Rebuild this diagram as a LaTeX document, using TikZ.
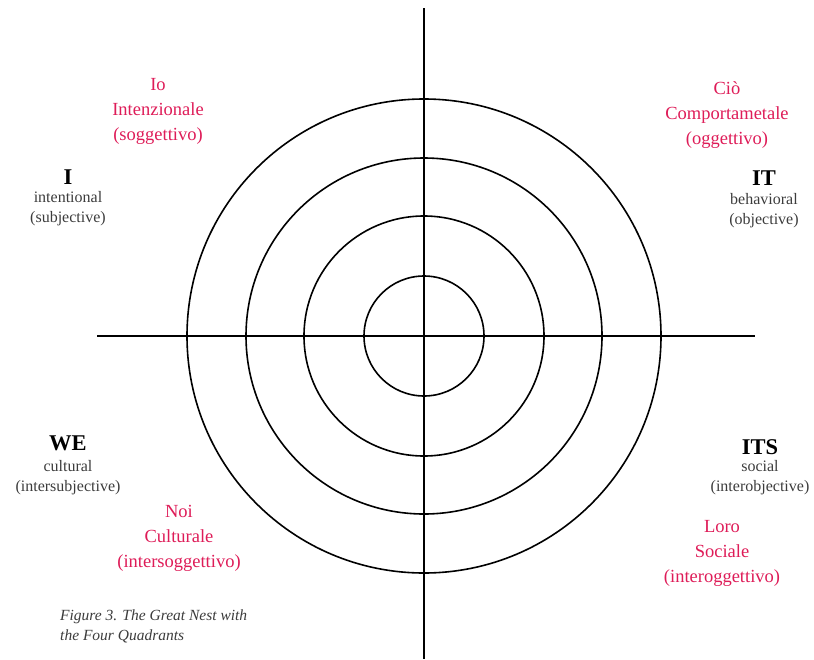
\documentclass[tikz,border=0pt]{standalone}
\usepackage{fontspec}
\setmainfont{Liberation Serif}
\definecolor{itred}{RGB}{222,28,88}
\definecolor{engray}{RGB}{60,60,60}
\begin{document}
\begin{tikzpicture}[x=1pt,y=-1pt,
  ring/.style={draw=black,line width=1.6pt},
  axis/.style={draw=black,line width=1.8pt},
  itlabel/.style={text=itred,font=\fontsize{18.5}{25}\selectfont,align=center,inner sep=0pt},
  enhead/.style={text=black,font=\fontsize{22.5}{20}\selectfont\bfseries,inner sep=0pt},
  ensub/.style={text=engray,font=\fontsize{16}{20}\selectfont,align=center,inner sep=0pt},
  captext/.style={text=engray,font=\fontsize{15.5}{20}\selectfont\itshape,align=left,inner sep=0pt,anchor=north west}]
\useasboundingbox (0,0) rectangle (814,659);
\coordinate (c) at (424,336);
\foreach \r/\n in {60/r1,120/r2,178/r3,237/r4} {
  \node[ring,circle,minimum size=2*\r pt,inner sep=0pt] (\n) at (c) {};
}
\coordinate (top) at (424,8);
\coordinate (bot) at (424,659);
\coordinate (lft) at (97,336);
\coordinate (rgt) at (755,336);
\draw[axis] (top) -- (bot);
\draw[axis] (lft) -- (rgt);

\node[itlabel] (io) at (158,111) {Io\\Intenzionale\\(soggettivo)};
\node[enhead] (I) at (68,177) {I};
\node[ensub] (Isub) at (68,209) {intentional\\(subjective)};

\node[itlabel] (cio) at (727,115) {Ciò\\Comportametale\\(oggettivo)};
\node[enhead] (IT) at (764,178) {IT};
\node[ensub] (ITsub) at (764,211) {behavioral\\(objective)};

\node[enhead] (WE) at (68,443) {WE};
\node[ensub] (WEsub) at (68,478) {cultural\\(intersubjective)};
\node[itlabel] (noi) at (179,538) {Noi\\Culturale\\(intersoggettivo)};

\node[enhead] (ITS) at (760,447) {ITS};
\node[ensub] (ITSsub) at (760,478) {social\\(interobjective)};
\node[itlabel] (loro) at (722,553) {Loro\\Sociale\\(interoggettivo)};

\node[captext] (cap) at (60,610) {Figure 3. The Great Nest with\\the Four Quadrants};
\end{tikzpicture}
\end{document}
